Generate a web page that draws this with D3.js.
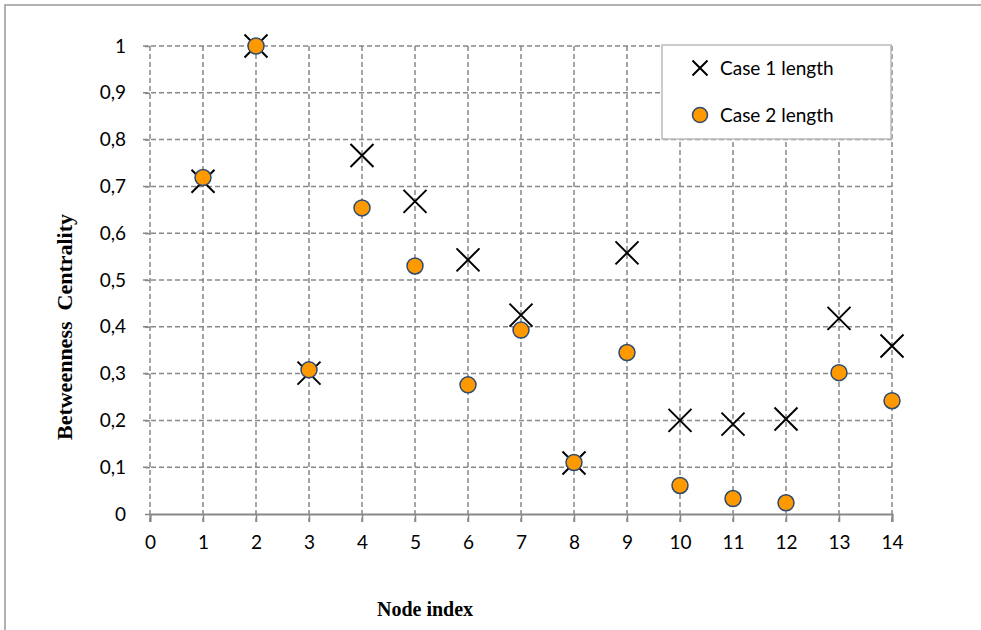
<!DOCTYPE html>
<html>
<head>
<meta charset="utf-8">
<title>Betweenness Centrality</title>
<script src="https://cdnjs.cloudflare.com/ajax/libs/d3/7.8.5/d3.min.js"></script>
<style>
  body { margin: 0; background: #fff; }
  svg text { font-family: Lato, "Open Sans", sans-serif; }
</style>
</head>
<body>
<div id="ChartArea"></div>
<script>
// node index 1..14
const nodes = [1, 2, 3, 4, 5, 6, 7, 8, 9, 10, 11, 12, 13, 14];
const case1 = [0.711, 1.0, 0.301, 0.766, 0.668, 0.543, 0.425, 0.109, 0.558, 0.200, 0.192, 0.203, 0.418, 0.359];
const case2 = [0.719, 1.0, 0.308, 0.654, 0.530, 0.276, 0.393, 0.110, 0.345, 0.061, 0.033, 0.024, 0.302, 0.242];
const xTicks = d3.range(0, 15);
const yTicks = [0, 0.1, 0.2, 0.3, 0.4, 0.5, 0.6, 0.7, 0.8, 0.9, 1];
const seriesNames = ["Case 1 length", "Case 2 length"];

const W = 981, H = 630;
const margin = {top: 46, right: 89, bottom: 116, left: 150};
const width = W - margin.left - margin.right;
const height = H - margin.top - margin.bottom;

const svg = d3.select("#ChartArea").append("svg")
    .attr("width", W)
    .attr("height", H);

// outer frame (only top/left visible in the picture)
svg.append("rect")
    .attr("x", 5).attr("y", 5)
    .attr("width", W + 10).attr("height", H + 10)
    .attr("fill", "none")
    .attr("stroke", "#999")
    .attr("stroke-width", 1.5);

const g = svg.append("g")
    .attr("transform", "translate(" + margin.left + "," + margin.top + ")");

const x = d3.scaleLinear().domain([0, 14]).range([0, width]);
const y = d3.scaleLinear().domain([0, 1]).range([height, 0]);

// grid
g.append("g").selectAll("line")
  .data(yTicks.filter(d => d > 0))
  .enter().append("line")
  .attr("x1", -7).attr("x2", width)
  .attr("y1", d => y(d)).attr("y2", d => y(d))
  .attr("stroke", "#888").attr("stroke-width", 1.5)
  .attr("stroke-dasharray", "5,3");

g.append("g").selectAll("line")
  .data(xTicks)
  .enter().append("line")
  .attr("x1", d => x(d)).attr("x2", d => x(d))
  .attr("y1", 0).attr("y2", height + 8)
  .attr("stroke", "#888").attr("stroke-width", 1.5)
  .attr("stroke-dasharray", "5,3");

// x axis
const xAxis = g.append("g")
    .attr("transform", "translate(0," + height + ")")
    .call(d3.axisBottom(x).tickValues(xTicks).tickSize(8).tickPadding(14).tickFormat(d3.format("d")));
xAxis.select(".domain").attr("stroke", "#888").attr("stroke-width", 2);
xAxis.selectAll(".tick line").attr("stroke", "#888").attr("stroke-width", 1.5);
xAxis.selectAll("text").attr("font-size", 19).attr("fill", "#000");

// y axis
const fmtComma = d => d === 0 ? "0" : (d === 1 ? "1" : d3.format(".1f")(d).replace(".", ","));
const yAxis = g.append("g")
    .call(d3.axisLeft(y).tickValues(yTicks).tickSize(7).tickPadding(17).tickFormat(fmtComma));
yAxis.select(".domain").remove();
yAxis.selectAll(".tick line").attr("stroke", "#888").attr("stroke-width", 1.5)
    .attr("stroke-dasharray", "5,3");
yAxis.selectAll("text").attr("font-size", 19).attr("fill", "#000");

// axis titles
svg.append("text")
    .attr("transform", "translate(72,327) rotate(-90)")
    .attr("text-anchor", "middle")
    .style("font-family", "'Liberation Serif', 'Times New Roman', serif")
    .style("white-space", "pre")
    .attr("font-weight", "bold")
    .attr("font-size", 22)
    .text("Betweenness  Centrality");

svg.append("text")
    .attr("x", 425).attr("y", 616)
    .attr("text-anchor", "middle")
    .style("font-family", "'Liberation Serif', 'Times New Roman', serif")
    .attr("font-weight", "bold")
    .attr("font-size", 20)
    .text("Node index");

// markers
function crossPath(s) {
  return "M" + (-s) + "," + (-s) + "L" + s + "," + s + "M" + (-s) + "," + s + "L" + s + "," + (-s);
}

g.append("g").selectAll("path")
  .data(nodes.map((n, i) => ({n: n, v: case1[i]})))
  .enter().append("path")
  .attr("transform", d => "translate(" + x(d.n) + "," + y(d.v) + ")")
  .attr("d", crossPath(11.5))
  .attr("stroke", "#000").attr("stroke-width", 2).attr("fill", "none");

g.append("g").selectAll("circle")
  .data(nodes.map((n, i) => ({n: n, v: case2[i]})))
  .enter().append("circle")
  .attr("cx", d => x(d.n)).attr("cy", d => y(d.v))
  .attr("r", 8)
  .attr("fill", "#FF9900")
  .attr("stroke", "#2E4A6E").attr("stroke-width", 1.5);

// legend
const lg = svg.append("g");
lg.append("rect")
    .attr("x", 662).attr("y", 45).attr("width", 229).attr("height", 94)
    .attr("fill", "#fff").attr("stroke", "#bbb").attr("stroke-width", 1.5);
lg.append("path")
    .attr("transform", "translate(700,68)")
    .attr("d", crossPath(7.5))
    .attr("stroke", "#000").attr("stroke-width", 2).attr("fill", "none");
lg.append("circle")
    .attr("cx", 700).attr("cy", 115).attr("r", 7.5)
    .attr("fill", "#FF9900").attr("stroke", "#2E4A6E").attr("stroke-width", 1.5);
lg.selectAll("text.leg")
  .data(seriesNames)
  .enter().append("text")
  .attr("class", "leg")
  .attr("x", 720).attr("y", (d, i) => 68 + i * 47)
  .attr("dy", "0.35em")
  .attr("font-size", 19)
  .text(d => d);
</script>
</body>
</html>
